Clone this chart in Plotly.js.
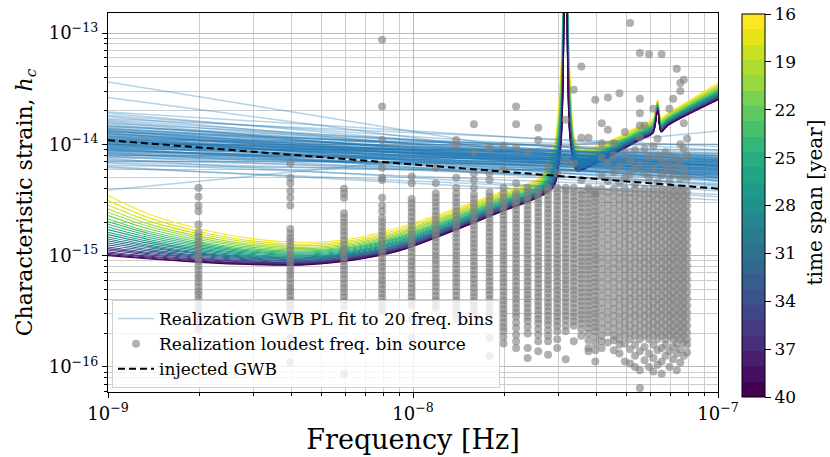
<!DOCTYPE html>
<html><head><meta charset="utf-8">
<script src="https://cdn.plot.ly/plotly-3.0.1.min.js"></script>
<style>html,body{margin:0;padding:0;background:#fff}#chart{width:830px;height:457px}</style>
</head><body><div id="chart"></div>
<script>
// ---------- DATA ----------
// sensitivity curve frequency grid [Hz]
const sensFreq = [1.000e-9,1.373e-9,2.003e-9,2.921e-9,4.262e-9,6.216e-9,9.066e-9,1.322e-8,1.929e-8,2.609e-8,2.900e-8,3.057e-8,3.1688e-8,3.272e-8,3.449e-8,3.804e-8,5.550e-8,6.122e-8,6.3376e-8,6.504e-8,6.857e-8,1.000e-7];
const timeSpans = [16,17,18,19,20,21,22,23,24,25,26,27,28,29,30,31,32,33,34,35,36,37,38,39,40];
// log10 characteristic strain of each sensitivity curve (one per time span)
const sensLog = [
[-14.46,-14.63,-14.76,-14.845,-14.88,-14.85,-14.745,-14.595,-14.43,-14.30,-14.02,-13.30,-11.5,-13.40,-14.00,-14.04,-13.83,-13.77,-13.60,-13.76,-13.72,-13.45],
[-14.505,-14.663,-14.785,-14.865,-14.897,-14.866,-14.762,-14.611,-14.445,-14.314,-14.05,-13.358,-11.5,-13.446,-14.02,-14.053,-13.841,-13.781,-13.607,-13.771,-13.729,-13.462],
[-14.544,-14.692,-14.806,-14.881,-14.912,-14.880,-14.778,-14.625,-14.458,-14.326,-14.076,-13.408,-11.5,-13.485,-14.037,-14.065,-13.850,-13.790,-13.614,-13.780,-13.737,-13.473],
[-14.580,-14.719,-14.827,-14.897,-14.926,-14.893,-14.792,-14.638,-14.470,-14.338,-14.100,-13.455,-11.5,-13.522,-14.053,-14.076,-13.859,-13.799,-13.620,-13.789,-13.744,-13.483],
[-14.610,-14.741,-14.843,-14.910,-14.937,-14.904,-14.803,-14.649,-14.480,-14.347,-14.120,-13.495,-11.5,-13.553,-14.067,-14.084,-13.866,-13.806,-13.625,-13.796,-13.751,-13.492],
[-14.640,-14.763,-14.860,-14.923,-14.948,-14.915,-14.815,-14.660,-14.490,-14.357,-14.140,-13.533,-11.5,-13.583,-14.080,-14.093,-13.873,-13.813,-13.630,-13.803,-13.757,-13.500],
[-14.670,-14.786,-14.877,-14.936,-14.960,-14.926,-14.827,-14.671,-14.500,-14.366,-14.160,-13.572,-11.5,-13.614,-14.093,-14.102,-13.881,-13.821,-13.635,-13.811,-13.763,-13.508],
[-14.694,-14.803,-14.890,-14.947,-14.969,-14.934,-14.836,-14.679,-14.508,-14.374,-14.176,-13.603,-11.5,-13.638,-14.104,-14.109,-13.886,-13.826,-13.639,-13.816,-13.768,-13.515],
[-14.718,-14.821,-14.903,-14.957,-14.978,-14.943,-14.845,-14.688,-14.516,-14.381,-14.192,-13.635,-11.5,-13.663,-14.115,-14.116,-13.892,-13.832,-13.643,-13.822,-13.773,-13.522],
[-14.742,-14.839,-14.917,-14.968,-14.987,-14.952,-14.855,-14.697,-14.524,-14.389,-14.208,-13.665,-11.5,-13.687,-14.125,-14.124,-13.898,-13.838,-13.647,-13.828,-13.777,-13.528],
[-14.766,-14.857,-14.930,-14.978,-14.996,-14.961,-14.864,-14.706,-14.532,-14.396,-14.224,-13.697,-11.5,-13.712,-14.136,-14.131,-13.904,-13.844,-13.651,-13.834,-13.782,-13.535],
[-14.790,-14.874,-14.943,-14.989,-15.005,-14.969,-14.873,-14.714,-14.540,-14.404,-14.240,-13.728,-11.5,-13.736,-14.147,-14.138,-13.909,-13.849,-13.655,-13.839,-13.787,-13.542],
[-14.811,-14.890,-14.955,-14.998,-15.013,-14.977,-14.881,-14.722,-14.547,-14.410,-14.254,-13.755,-11.5,-13.757,-14.156,-14.144,-13.914,-13.854,-13.658,-13.844,-13.791,-13.547],
[-14.832,-14.906,-14.967,-15.007,-15.021,-14.984,-14.890,-14.729,-14.554,-14.417,-14.268,-13.782,-11.5,-13.779,-14.165,-14.150,-13.920,-13.860,-13.662,-13.850,-13.796,-13.553],
[-14.850,-14.919,-14.977,-15.015,-15.028,-14.991,-14.897,-14.736,-14.560,-14.423,-14.280,-13.805,-11.5,-13.797,-14.173,-14.156,-13.924,-13.864,-13.665,-13.854,-13.799,-13.558],
[-14.868,-14.932,-14.986,-15.022,-15.035,-14.997,-14.904,-14.742,-14.566,-14.428,-14.292,-13.828,-11.5,-13.815,-14.181,-14.161,-13.928,-13.868,-13.668,-13.858,-13.803,-13.563],
[-14.886,-14.946,-14.997,-15.030,-15.042,-15.004,-14.911,-14.749,-14.572,-14.434,-14.304,-13.852,-11.5,-13.834,-14.189,-14.166,-13.933,-13.873,-13.671,-13.863,-13.807,-13.568],
[-14.904,-14.959,-15.007,-15.038,-15.049,-15.010,-14.918,-14.755,-14.578,-14.440,-14.316,-13.875,-11.5,-13.852,-14.197,-14.172,-13.937,-13.877,-13.674,-13.867,-13.810,-13.573],
[-14.922,-14.972,-15.016,-15.046,-15.055,-15.017,-14.925,-14.762,-14.584,-14.445,-14.328,-13.898,-11.5,-13.870,-14.205,-14.177,-13.941,-13.881,-13.677,-13.871,-13.814,-13.578],
[-14.937,-14.983,-15.025,-15.053,-15.061,-15.022,-14.930,-14.767,-14.589,-14.450,-14.338,-13.918,-11.5,-13.886,-14.212,-14.181,-13.945,-13.885,-13.679,-13.875,-13.817,-13.582],
[-14.952,-14.994,-15.033,-15.059,-15.067,-15.028,-14.936,-14.773,-14.594,-14.455,-14.348,-13.938,-11.5,-13.901,-14.219,-14.186,-13.948,-13.888,-13.682,-13.878,-13.820,-13.587],
[-14.967,-15.006,-15.042,-15.066,-15.072,-15.033,-14.942,-14.778,-14.599,-14.460,-14.358,-13.957,-11.5,-13.916,-14.225,-14.190,-13.952,-13.892,-13.685,-13.882,-13.823,-13.591],
[-14.979,-15.014,-15.048,-15.071,-15.077,-15.037,-14.947,-14.782,-14.603,-14.463,-14.366,-13.973,-11.5,-13.929,-14.231,-14.194,-13.955,-13.895,-13.686,-13.885,-13.826,-13.594],
[-14.991,-15.023,-15.055,-15.076,-15.082,-15.042,-14.951,-14.787,-14.607,-14.467,-14.374,-13.988,-11.5,-13.941,-14.236,-14.197,-13.958,-13.898,-13.688,-13.888,-13.828,-13.597],
[-15.000,-15.030,-15.060,-15.080,-15.085,-15.045,-14.955,-14.790,-14.610,-14.470,-14.380,-14.000,-11.5,-13.950,-14.240,-14.200,-13.960,-13.900,-13.690,-13.890,-13.830,-13.600]
];

// realization power-law fits: log10 hc at 1e-9 Hz and at 1e-7 Hz
const fitFreq = [1e-9, 1e-7];
const fitLogAt1e9 = [-13.44,-13.58,-14.41,-13.71,-13.72,-13.74,-13.75,-13.77,-13.78,-13.80,-13.81,-13.83,-13.84,-13.85,-13.86,-13.87,-13.88,-13.89,-13.90,-13.91,-13.92,-13.93,-13.94,-13.95,-13.95,-13.96,-13.97,-13.98,-13.98,-13.99,-14.00,-14.01,-14.02,-14.03,-14.04,-14.05,-14.06,-14.07,-14.08,-14.09,-14.10,-14.11,-14.12,-14.14,-14.15,-14.17,-14.19,-14.21,-14.20,-13.93,-13.96,-14.00,-13.90,-14.05,-13.88,-14.02,-13.99,-14.08,-13.82,-14.13,
  -13.86,-13.92,-13.97,-14.01,-13.94,-14.03,-13.89,-14.06,-13.96,-14.00,-13.91,-14.04,-13.99,-13.87,-14.09,-13.93,-14.02,-13.98,-13.84,-14.11,-13.95,-14.07,-13.90,-14.00,-13.97,-14.05,-13.79,-14.16,-13.88,-14.03];
const fitLogAt1e7 = [-14.33,-14.30,-13.88,-14.05,-14.20,-14.12,-14.25,-14.02,-14.15,-14.30,-14.10,-14.18,-14.08,-14.22,-14.13,-14.27,-14.16,-14.06,-14.20,-14.12,-14.24,-14.17,-14.10,-14.21,-14.14,-14.28,-14.18,-14.11,-14.23,-14.16,-14.20,-14.13,-14.26,-14.19,-14.15,-14.22,-14.17,-14.30,-14.19,-14.24,-14.14,-14.35,-14.21,-14.27,-14.18,-14.40,-14.25,-14.45,-14.50,-14.37,-14.00,-14.42,-14.33,-14.29,-14.23,-14.08,-14.31,-14.36,-14.26,-14.47,
  -14.19,-14.14,-14.24,-14.18,-14.26,-14.12,-14.16,-14.21,-14.20,-14.28,-14.22,-14.33,-14.09,-14.11,-14.27,-14.19,-14.23,-14.15,-14.14,-14.22,-14.32,-14.16,-14.27,-14.17,-14.13,-14.25,-14.20,-14.30,-14.29,-14.38];

// injected GWB
const gwbFreq = [1e-9, 1e-7];
const gwbLog = [-13.963, -14.398];

// loudest-source frequency bins [Hz] and log10 hc of the sources in each bin
const binFreq = [1.98e-9,3.96e-9,5.94e-9,7.92e-9,9.90e-9,1.188e-8,1.386e-8,1.584e-8,1.782e-8,1.98e-8,2.178e-8,2.376e-8,2.574e-8,2.772e-8,2.97e-8,3.168e-8,3.366e-8,3.564e-8,3.762e-8,3.96e-8,4.158e-8,4.356e-8,4.554e-8,4.752e-8,4.95e-8,5.148e-8,5.346e-8,5.544e-8,5.742e-8,5.94e-8,6.138e-8,6.336e-8,6.534e-8,6.732e-8,6.93e-8,7.128e-8,7.326e-8,7.524e-8,7.722e-8,7.92e-8];
const binLog = [
[-14.39,-14.47,-14.55,-14.60,-14.72,-14.79,-14.83,-14.87,-14.90,-14.94,-14.98,-15.02,-15.05,-15.09,-15.13,-15.17,-15.20,-15.24,-15.28,-15.32,-15.35,-15.39,-15.43,-15.47,-15.51,-15.58,-15.66],
[-14.17,-14.30,-14.35,-14.42,-14.48,-14.55,-14.76,-14.80,-14.84,-14.87,-14.91,-14.95,-14.99,-15.02,-15.06,-15.10,-15.14,-15.17,-15.21,-15.25,-15.29,-15.32,-15.36,-15.40,-15.44,-15.48,-15.52,-15.74,-15.83,-15.96],
[-14.40,-14.44,-14.48,-14.62,-14.66,-14.70,-14.74,-14.78,-14.82,-14.86,-14.90,-14.94,-14.97,-15.01,-15.05,-15.09,-15.13,-15.17,-15.21,-15.25,-15.29,-15.33,-15.37,-15.41,-15.46,-16.06],
[-13.06,-13.66,-13.96,-14.21,-14.30,-14.32,-14.48,-14.55,-14.60,-14.66,-14.70,-14.74,-14.78,-14.82,-14.86,-14.90,-14.94,-14.98,-15.02,-15.06,-15.10,-15.14,-15.18,-15.22,-15.26,-15.30,-15.34,-15.38,-15.42,-15.46,-15.50],
[-14.29,-14.35,-14.49,-14.53,-14.57,-14.61,-14.65,-14.69,-14.73,-14.77,-14.81,-14.85,-14.89,-14.93,-14.97,-15.01,-15.05,-15.09,-15.13,-15.17,-15.21,-15.25,-15.29,-15.33,-15.37,-15.41,-15.45,-15.57,-15.74],
[-14.21,-14.35,-14.44,-14.48,-14.52,-14.56,-14.60,-14.64,-14.68,-14.72,-14.76,-14.80,-14.84,-14.88,-14.92,-14.96,-15.00,-15.04,-15.08,-15.12,-15.16,-15.20,-15.24,-15.28,-15.32,-15.36,-15.40,-15.44,-15.47],
[-13.96,-14.01,-14.30,-14.39,-14.44,-14.48,-14.52,-14.56,-14.60,-14.64,-14.68,-14.72,-14.76,-14.80,-14.84,-14.88,-14.92,-14.96,-15.00,-15.04,-15.08,-15.12,-15.16,-15.20,-15.24,-15.28,-15.32,-15.36,-15.40,-15.44,-15.48,-15.52,-15.57],
[-13.82,-14.07,-14.26,-14.32,-14.39,-14.45,-14.49,-14.53,-14.57,-14.61,-14.65,-14.69,-14.73,-14.77,-14.81,-14.85,-14.89,-14.93,-14.97,-15.01,-15.05,-15.09,-15.13,-15.17,-15.21,-15.25,-15.29,-15.33,-15.37,-15.41,-15.45,-15.49,-15.52],
[-14.03,-14.26,-14.32,-14.43,-14.47,-14.51,-14.55,-14.59,-14.63,-14.67,-14.71,-14.75,-14.79,-14.83,-14.87,-14.91,-14.95,-14.99,-15.03,-15.07,-15.11,-15.15,-15.19,-15.23,-15.27,-15.31,-15.35,-15.39,-15.43,-15.47,-15.51,-15.56,-15.74,-15.90],
[-14.01,-14.23,-14.39,-14.44,-14.48,-14.52,-14.56,-14.60,-14.64,-14.68,-14.72,-14.76,-14.80,-14.84,-14.88,-14.92,-14.96,-15.00,-15.04,-15.08,-15.12,-15.16,-15.20,-15.24,-15.28,-15.32,-15.36,-15.40,-15.44,-15.48,-15.52,-15.56,-15.60,-15.64,-15.68,-15.73,-15.79],
[-13.66,-13.82,-14.03,-14.35,-14.44,-14.47,-14.51,-14.55,-14.59,-14.63,-14.67,-14.71,-14.75,-14.79,-14.83,-14.87,-14.91,-14.95,-14.99,-15.03,-15.07,-15.11,-15.15,-15.19,-15.23,-15.27,-15.31,-15.35,-15.39,-15.43,-15.47,-15.51,-15.55,-15.60,-15.65,-15.71,-15.77,-15.83],
[-14.07,-14.39,-14.43,-14.47,-14.51,-14.55,-14.59,-14.63,-14.67,-14.71,-14.75,-14.79,-14.83,-14.87,-14.91,-14.95,-14.99,-15.03,-15.07,-15.11,-15.15,-15.19,-15.23,-15.27,-15.31,-15.35,-15.39,-15.43,-15.47,-15.51,-15.55,-15.59,-15.64,-15.70,-15.83,-15.92],
[-13.85,-13.96,-14.41,-14.45,-14.49,-14.53,-14.57,-14.61,-14.65,-14.69,-14.73,-14.77,-14.81,-14.85,-14.89,-14.93,-14.97,-15.01,-15.05,-15.09,-15.13,-15.17,-15.21,-15.25,-15.29,-15.33,-15.37,-15.41,-15.45,-15.49,-15.53,-15.57,-15.61,-15.66,-15.71,-15.77,-15.86],
[-14.20,-14.39,-14.42,-14.46,-14.50,-14.54,-14.58,-14.62,-14.66,-14.70,-14.74,-14.78,-14.82,-14.86,-14.90,-14.94,-14.98,-15.02,-15.06,-15.10,-15.14,-15.18,-15.22,-15.26,-15.30,-15.34,-15.38,-15.42,-15.46,-15.50,-15.54,-15.58,-15.62,-15.67,-15.72,-15.77,-15.89],
[-14.26,-14.39,-14.43,-14.47,-14.51,-14.55,-14.59,-14.63,-14.67,-14.71,-14.75,-14.79,-14.83,-14.87,-14.91,-14.95,-14.99,-15.03,-15.07,-15.11,-15.15,-15.19,-15.23,-15.27,-15.31,-15.35,-15.39,-15.43,-15.47,-15.51,-15.55,-15.59,-15.63,-15.68,-15.75,-15.83],
[-13.78,-14.15,-14.39,-14.42,-14.46,-14.50,-14.54,-14.58,-14.62,-14.66,-14.70,-14.74,-14.78,-14.82,-14.86,-14.90,-14.94,-14.98,-15.02,-15.06,-15.10,-15.14,-15.18,-15.22,-15.26,-15.30,-15.34,-15.38,-15.42,-15.46,-15.50,-15.54,-15.58,-15.63,-15.68,-15.93],
[-13.51,-14.17,-14.39,-14.43,-14.47,-14.51,-14.55,-14.59,-14.63,-14.67,-14.71,-14.75,-14.79,-14.83,-14.87,-14.91,-14.95,-14.99,-15.03,-15.07,-15.11,-15.15,-15.19,-15.23,-15.27,-15.31,-15.35,-15.39,-15.43,-15.47,-15.51,-15.55,-15.59,-15.63,-15.77],
[-13.30,-13.94,-14.32,-14.42,-14.45,-14.49,-14.53,-14.57,-14.61,-14.65,-14.69,-14.73,-14.77,-14.81,-14.85,-14.89,-14.93,-14.97,-15.01,-15.05,-15.09,-15.13,-15.17,-15.21,-15.25,-15.29,-15.33,-15.37,-15.41,-15.45,-15.49,-15.53,-15.57,-15.61,-15.66,-15.72],
[-13.94,-14.39,-14.41,-14.45,-14.49,-14.53,-14.57,-14.61,-14.65,-14.69,-14.73,-14.77,-14.81,-14.85,-14.89,-14.93,-14.97,-15.01,-15.05,-15.09,-15.13,-15.17,-15.21,-15.25,-15.29,-15.33,-15.37,-15.41,-15.45,-15.49,-15.53,-15.57,-15.61,-15.65,-15.70,-15.76,-15.83,-15.86],
[-13.60,-14.45,-14.41,-14.44,-14.48,-14.52,-14.56,-14.60,-14.64,-14.68,-14.72,-14.76,-14.80,-14.84,-14.88,-14.92,-14.96,-15.00,-15.04,-15.08,-15.12,-15.16,-15.20,-15.24,-15.28,-15.32,-15.36,-15.40,-15.44,-15.48,-15.52,-15.56,-15.60,-15.64,-15.68,-15.73,-15.79,-15.85,-15.95],
[-13.81,-13.99,-14.12,-14.28,-14.40,-14.46,-14.52,-14.58,-14.64,-14.70,-14.76,-14.82,-14.88,-14.94,-15.00,-15.06,-15.12,-15.18,-15.24,-15.30,-15.36,-15.42,-15.48,-15.54,-15.60,-15.66,-15.72,-15.77,-15.83],
[-13.58,-13.87,-14.17,-14.33,-14.43,-14.49,-14.55,-14.61,-14.67,-14.73,-14.79,-14.85,-14.91,-14.97,-15.03,-15.09,-15.15,-15.21,-15.27,-15.33,-15.39,-15.45,-15.51,-15.57,-15.63,-15.69,-15.78],
[-13.99,-14.10,-14.25,-14.40,-14.46,-14.52,-14.58,-14.64,-14.70,-14.76,-14.82,-14.88,-14.94,-15.00,-15.06,-15.12,-15.18,-15.24,-15.30,-15.36,-15.42,-15.48,-15.54,-15.60,-15.66,-15.72,-15.76,-15.85],
[-13.54,-14.20,-14.35,-14.43,-14.49,-14.55,-14.61,-14.67,-14.73,-14.79,-14.85,-14.91,-14.97,-15.03,-15.09,-15.15,-15.21,-15.27,-15.33,-15.39,-15.45,-15.51,-15.57,-15.63,-15.69,-15.75,-15.80,-15.88],
[-13.89,-14.08,-14.30,-14.40,-14.46,-14.52,-14.58,-14.64,-14.70,-14.76,-14.82,-14.88,-14.94,-15.00,-15.06,-15.12,-15.18,-15.24,-15.30,-15.36,-15.42,-15.48,-15.54,-15.60,-15.66,-15.72,-15.79,-15.95],
[-12.91,-14.15,-14.27,-14.43,-14.49,-14.55,-14.61,-14.67,-14.73,-14.79,-14.85,-14.91,-14.97,-15.03,-15.09,-15.15,-15.21,-15.27,-15.33,-15.39,-15.45,-15.51,-15.57,-15.63,-15.69,-15.75,-15.84,-15.97],
[-14.05,-14.22,-14.36,-14.40,-14.46,-14.52,-14.58,-14.64,-14.70,-14.76,-14.82,-14.88,-14.94,-15.00,-15.06,-15.12,-15.18,-15.24,-15.30,-15.36,-15.42,-15.48,-15.54,-15.60,-15.66,-15.72,-15.80,-15.90,-16.00],
[-13.18,-13.59,-13.72,-13.83,-13.94,-14.18,-14.43,-14.49,-14.55,-14.61,-14.67,-14.73,-14.79,-14.85,-14.91,-14.97,-15.03,-15.09,-15.15,-15.21,-15.27,-15.33,-15.39,-15.45,-15.51,-15.57,-15.63,-15.69,-15.75,-15.86,-16.03,-16.19],
[-13.83,-14.04,-14.26,-14.40,-14.46,-14.52,-14.58,-14.64,-14.70,-14.76,-14.82,-14.88,-14.94,-15.00,-15.06,-15.12,-15.18,-15.24,-15.30,-15.36,-15.42,-15.48,-15.54,-15.60,-15.66,-15.72,-15.82,-15.94],
[-13.19,-14.12,-14.30,-14.43,-14.49,-14.55,-14.61,-14.67,-14.73,-14.79,-14.85,-14.91,-14.97,-15.03,-15.09,-15.15,-15.21,-15.27,-15.33,-15.39,-15.45,-15.51,-15.57,-15.63,-15.69,-15.75,-15.88,-16.00],
[-13.68,-14.02,-14.22,-14.40,-14.46,-14.52,-14.58,-14.64,-14.70,-14.76,-14.82,-14.88,-14.94,-15.00,-15.06,-15.12,-15.18,-15.24,-15.30,-15.36,-15.42,-15.48,-15.54,-15.60,-15.66,-15.72,-15.80,-15.92,-16.04],
[-13.95,-14.10,-14.34,-14.43,-14.49,-14.55,-14.61,-14.67,-14.73,-14.79,-14.85,-14.91,-14.97,-15.03,-15.09,-15.15,-15.21,-15.27,-15.33,-15.39,-15.45,-15.51,-15.57,-15.63,-15.69,-15.75,-15.85,-15.98],
[-13.19,-14.16,-14.28,-14.40,-14.46,-14.52,-14.58,-14.64,-14.70,-14.76,-14.82,-14.88,-14.94,-15.00,-15.06,-15.12,-15.18,-15.24,-15.30,-15.36,-15.42,-15.48,-15.54,-15.60,-15.66,-15.72,-15.83,-15.95,-16.06],
[-14.07,-14.24,-14.43,-14.49,-14.55,-14.61,-14.67,-14.73,-14.79,-14.85,-14.91,-14.97,-15.03,-15.09,-15.15,-15.21,-15.27,-15.33,-15.39,-15.45,-15.51,-15.57,-15.63,-15.69,-15.75,-15.80,-15.90],
[-13.68,-14.19,-14.33,-14.40,-14.46,-14.52,-14.58,-14.64,-14.70,-14.76,-14.82,-14.88,-14.94,-15.00,-15.06,-15.12,-15.18,-15.24,-15.30,-15.36,-15.42,-15.48,-15.54,-15.60,-15.66,-15.72,-15.86,-16.00],
[-13.59,-14.12,-14.27,-14.43,-14.49,-14.55,-14.61,-14.67,-14.73,-14.79,-14.85,-14.91,-14.97,-15.03,-15.09,-15.15,-15.21,-15.27,-15.33,-15.39,-15.45,-15.51,-15.57,-15.63,-15.69,-15.75,-15.82,-15.93],
[-13.32,-14.20,-14.40,-14.46,-14.52,-14.58,-14.64,-14.70,-14.76,-14.82,-14.88,-14.94,-15.00,-15.06,-15.12,-15.18,-15.24,-15.30,-15.36,-15.42,-15.48,-15.54,-15.60,-15.66,-15.72,-15.79,-15.88,-16.03],
[-13.45,-13.52,-14.00,-14.15,-14.31,-14.43,-14.49,-14.55,-14.61,-14.67,-14.73,-14.79,-14.85,-14.91,-14.97,-15.03,-15.09,-15.15,-15.21,-15.27,-15.33,-15.39,-15.45,-15.51,-15.57,-15.63,-15.69,-15.75,-15.84,-15.96],
[-13.42,-13.81,-14.04,-14.23,-14.40,-14.46,-14.52,-14.58,-14.64,-14.70,-14.76,-14.82,-14.88,-14.94,-15.00,-15.06,-15.12,-15.18,-15.24,-15.30,-15.36,-15.42,-15.48,-15.54,-15.60,-15.66,-15.72,-15.78,-15.90],
[-13.95,-14.10,-14.30,-14.43,-14.49,-14.55,-14.61,-14.67,-14.73,-14.79,-14.85,-14.91,-14.97,-15.03,-15.09,-15.15,-15.21,-15.27,-15.33,-15.39,-15.45,-15.51,-15.57,-15.63,-15.69,-15.75,-15.80,-15.87]
];

// tick labels
const xTickVals = [1e-9, 1e-8, 1e-7];
const xTickText = ['10<sup>−9</sup>', '10<sup>−8</sup>', '10<sup>−7</sup>'];
const yTickVals = [1e-16, 1e-15, 1e-14, 1e-13];
const yTickText = ['10<sup>−16</sup>', '10<sup>−15</sup>', '10<sup>−14</sup>', '10<sup>−13</sup>'];
const cbarTicks = [16, 19, 22, 25, 28, 31, 34, 37, 40];

// ---------- STYLE ----------
const viridis25 = ['#440154','#470f62','#481e6f','#472d7b','#443a83','#404688','#3b528b','#365d8d','#31688e','#2c728e','#287c8e','#24868e','#21918c','#1f9a8a','#20a486','#27ad81','#34b679','#47c16e','#5ec962','#77d153','#95d840','#addc30','#c8e020','#e4e419','#fde725'];
const FONT = 'DejaVu Serif, Liberation Serif, serif';
const pow10 = a => a.map(v => Math.pow(10, v));

const traces = [];
timeSpans.forEach((T, i) => {
  traces.push({
    type: 'scatter', mode: 'lines', x: sensFreq, y: pow10(sensLog[i]),
    line: {color: viridis25[40 - T], width: 1.1, shape: 'spline', smoothing: 0.8},
    showlegend: false, hoverinfo: 'skip'
  });
});
fitLogAt1e9.forEach((v, i) => {
  traces.push({
    type: 'scatter', mode: 'lines', x: fitFreq, y: pow10([v, fitLogAt1e7[i]]),
    line: {color: 'rgba(31,119,180,0.33)', width: 1.5},
    name: 'Realization GWB PL fit to 20 freq. bins',
    showlegend: i === 0, hoverinfo: 'skip'
  });
});
const sx = [], sy = [];
binFreq.forEach((f, i) => binLog[i].forEach(v => { sx.push(f); sy.push(Math.pow(10, v)); }));
traces.push({
  type: 'scatter', mode: 'markers', x: sx, y: sy,
  marker: {color: 'rgba(128,128,128,0.62)', size: 8, line: {width: 0}},
  name: 'Realization loudest freq. bin source', hoverinfo: 'skip'
});
traces.push({
  type: 'scatter', mode: 'lines', x: gwbFreq, y: pow10(gwbLog),
  line: {color: '#000', width: 2, dash: '7px,4px'},
  name: 'injected GWB', hoverinfo: 'skip'
});
// colour bar carrier
const cs = [];
viridis25.forEach((c, i) => { cs.push([i / 25, c]); cs.push([(i + 1) / 25, c]); });
traces.push({
  type: 'scatter', mode: 'markers', x: [1e-9, 1e-9], y: [1e-20, 1e-20],
  marker: {color: [-40, -16], cmin: -40, cmax: -16, colorscale: cs, opacity: 0, showscale: true,
    colorbar: {
      x: 1.0393, xanchor: 'left', xpad: 0, y: 0.492, yanchor: 'middle', ypad: 0,
      len: 383, lenmode: 'pixels', thickness: 23, thicknessmode: 'pixels',
      outlinewidth: 1, outlinecolor: '#000',
      tickmode: 'array', tickvals: cbarTicks.map(t => -t), ticktext: cbarTicks.map(String),
      ticks: 'outside', ticklen: 6, tickcolor: '#000',
      tickfont: {family: FONT, size: 17, color: '#000'}
    }},
  showlegend: false, hoverinfo: 'skip'
});

const layout = {
  width: 830, height: 457,
  margin: {l: 108, r: 112, t: 13, b: 65},
  paper_bgcolor: '#fff', plot_bgcolor: '#fff',
  font: {family: FONT, color: '#000'},
  showlegend: true,
  xaxis: {
    type: 'log', range: [-9, -7], autorange: false,
    tickmode: 'array', tickvals: xTickVals, ticktext: xTickText,
    tickfont: {family: FONT, size: 18}, ticks: 'outside', ticklen: 5, tickcolor: '#000',
    showline: true, linecolor: '#000', linewidth: 1.2, mirror: true,
    showgrid: true, gridcolor: '#b8b8b8', gridwidth: 1, zeroline: false,
    minor: {dtick: 'D1', ticks: 'outside', ticklen: 3, tickcolor: '#000', showgrid: true, gridcolor: '#cdcdcd', gridwidth: 1},
    title: {text: 'Frequency [Hz]', font: {family: FONT, size: 27}, standoff: 4},
    automargin: false
  },
  yaxis: {
    type: 'log', range: [-16.225, -12.82], autorange: false,
    tickmode: 'array', tickvals: yTickVals, ticktext: yTickText,
    tickfont: {family: FONT, size: 18}, ticks: 'outside', ticklen: 5, tickcolor: '#000',
    showline: true, linecolor: '#000', linewidth: 1.2, mirror: true,
    showgrid: true, gridcolor: '#b8b8b8', gridwidth: 1, zeroline: false,
    minor: {dtick: 'D1', ticks: 'outside', ticklen: 3, tickcolor: '#000', showgrid: true, gridcolor: '#cdcdcd', gridwidth: 1},
    title: {text: 'Characteristic strain, <i>h</i><sub><i>c</i></sub>', font: {family: FONT, size: 22}, standoff: 10},
    automargin: false
  },
  legend: {
    x: 0.0066, y: 0.0106, xanchor: 'left', yanchor: 'bottom',
    bgcolor: 'rgba(255,255,255,0.8)', bordercolor: '#d0d0d0', borderwidth: 1,
    font: {family: FONT, size: 17, color: '#000'}, tracegroupgap: 0, itemwidth: 36
  },
  annotations: [{
    xref: 'paper', yref: 'paper', x: 1.159, y: 0.50, xanchor: 'center', yanchor: 'middle',
    text: 'time span [year]', textangle: -90, showarrow: false,
    font: {family: FONT, size: 20, color: '#000'}
  }]
};

Plotly.newPlot('chart', traces, layout, {staticPlot: true, displayModeBar: false});
</script>
</body></html>
